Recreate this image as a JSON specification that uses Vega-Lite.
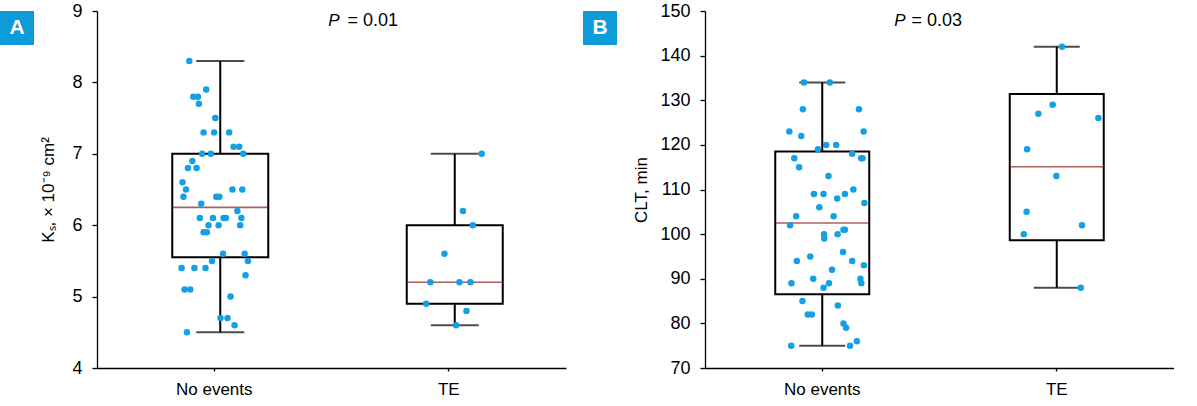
{
  "$schema": "https://vega.github.io/schema/vega-lite/v6.json",
  "padding": {"left": 0, "top": 2, "right": 0, "bottom": 0},
  "background": "white",
  "datasets": {
    "boxA": [
      {"group": "No events", "lower": 4.5, "q1": 5.55, "median": 6.25, "q3": 7.0, "upper": 8.3},
      {"group": "TE", "lower": 4.6, "q1": 4.9, "median": 5.2, "q3": 6.0, "upper": 7.0}
    ],
    "boxB": [
      {"group": "No events", "lower": 75, "q1": 86.5, "median": 102.5, "q3": 118.5, "upper": 134},
      {"group": "TE", "lower": 88, "q1": 98.6, "median": 115.1, "q3": 131.4, "upper": 142}
    ],
    "ptsA": [
      {"group": "No events", "value": 8.3, "jx": -0.132},
      {"group": "No events", "value": 7.9, "jx": -0.06},
      {"group": "No events", "value": 7.8, "jx": -0.115},
      {"group": "No events", "value": 7.8, "jx": -0.095},
      {"group": "No events", "value": 7.7, "jx": -0.091},
      {"group": "No events", "value": 7.5, "jx": -0.021},
      {"group": "No events", "value": 7.3, "jx": -0.071},
      {"group": "No events", "value": 7.3, "jx": -0.026},
      {"group": "No events", "value": 7.3, "jx": 0.038},
      {"group": "No events", "value": 7.1, "jx": 0.057},
      {"group": "No events", "value": 7.1, "jx": 0.081},
      {"group": "No events", "value": 7.0, "jx": -0.077},
      {"group": "No events", "value": 7.0, "jx": -0.04},
      {"group": "No events", "value": 7.0, "jx": 0.098},
      {"group": "No events", "value": 6.9, "jx": -0.119},
      {"group": "No events", "value": 6.8, "jx": -0.138},
      {"group": "No events", "value": 6.8, "jx": -0.101},
      {"group": "No events", "value": 6.6, "jx": -0.161},
      {"group": "No events", "value": 6.5, "jx": -0.146},
      {"group": "No events", "value": 6.5, "jx": 0.052},
      {"group": "No events", "value": 6.5, "jx": 0.094},
      {"group": "No events", "value": 6.4, "jx": -0.157},
      {"group": "No events", "value": 6.4, "jx": -0.017},
      {"group": "No events", "value": 6.4, "jx": -0.004},
      {"group": "No events", "value": 6.3, "jx": -0.081},
      {"group": "No events", "value": 6.2, "jx": 0.073},
      {"group": "No events", "value": 6.1, "jx": -0.087},
      {"group": "No events", "value": 6.1, "jx": -0.031},
      {"group": "No events", "value": 6.1, "jx": 0.014},
      {"group": "No events", "value": 6.1, "jx": 0.024},
      {"group": "No events", "value": 6.1, "jx": 0.09},
      {"group": "No events", "value": 6.0, "jx": -0.05},
      {"group": "No events", "value": 6.0, "jx": -0.007},
      {"group": "No events", "value": 6.0, "jx": 0.085},
      {"group": "No events", "value": 5.9, "jx": -0.071},
      {"group": "No events", "value": 5.9, "jx": -0.057},
      {"group": "No events", "value": 5.6, "jx": 0.012},
      {"group": "No events", "value": 5.6, "jx": 0.104},
      {"group": "No events", "value": 5.5, "jx": -0.035},
      {"group": "No events", "value": 5.5, "jx": 0.118},
      {"group": "No events", "value": 5.4, "jx": -0.165},
      {"group": "No events", "value": 5.4, "jx": -0.11},
      {"group": "No events", "value": 5.4, "jx": -0.063},
      {"group": "No events", "value": 5.3, "jx": 0.108},
      {"group": "No events", "value": 5.1, "jx": -0.152},
      {"group": "No events", "value": 5.1, "jx": -0.128},
      {"group": "No events", "value": 5.0, "jx": 0.044},
      {"group": "No events", "value": 4.7, "jx": 0.001},
      {"group": "No events", "value": 4.7, "jx": 0.031},
      {"group": "No events", "value": 4.6, "jx": 0.061},
      {"group": "No events", "value": 4.5, "jx": -0.142},
      {"group": "TE", "value": 7.0, "jx": 0.115},
      {"group": "TE", "value": 6.2, "jx": 0.035},
      {"group": "TE", "value": 6.0, "jx": 0.077},
      {"group": "TE", "value": 5.6, "jx": -0.044},
      {"group": "TE", "value": 5.2, "jx": -0.104},
      {"group": "TE", "value": 5.2, "jx": 0.02},
      {"group": "TE", "value": 5.2, "jx": 0.067},
      {"group": "TE", "value": 4.9, "jx": -0.122},
      {"group": "TE", "value": 4.8, "jx": 0.05},
      {"group": "TE", "value": 4.6, "jx": 0.006}
    ],
    "ptsB": [
      {"group": "No events", "value": 134, "jx": -0.104},
      {"group": "No events", "value": 134, "jx": 0.007},
      {"group": "No events", "value": 128, "jx": -0.108},
      {"group": "No events", "value": 128, "jx": 0.131},
      {"group": "No events", "value": 123, "jx": -0.166},
      {"group": "No events", "value": 123, "jx": 0.151},
      {"group": "No events", "value": 122, "jx": -0.115},
      {"group": "No events", "value": 120, "jx": -0.009},
      {"group": "No events", "value": 120, "jx": 0.034},
      {"group": "No events", "value": 119, "jx": -0.044},
      {"group": "No events", "value": 117, "jx": -0.145},
      {"group": "No events", "value": 118, "jx": 0.102},
      {"group": "No events", "value": 117, "jx": 0.14},
      {"group": "No events", "value": 117, "jx": 0.146},
      {"group": "No events", "value": 115, "jx": -0.124},
      {"group": "No events", "value": 113, "jx": 0.001},
      {"group": "No events", "value": 109, "jx": -0.061},
      {"group": "No events", "value": 109, "jx": -0.02},
      {"group": "No events", "value": 109, "jx": 0.071},
      {"group": "No events", "value": 110, "jx": 0.107},
      {"group": "No events", "value": 108, "jx": 0.038},
      {"group": "No events", "value": 107, "jx": 0.154},
      {"group": "No events", "value": 106, "jx": -0.038},
      {"group": "No events", "value": 104, "jx": -0.137},
      {"group": "No events", "value": 104, "jx": 0.023},
      {"group": "No events", "value": 102, "jx": -0.163},
      {"group": "No events", "value": 101, "jx": 0.065},
      {"group": "No events", "value": 101, "jx": 0.071},
      {"group": "No events", "value": 100, "jx": -0.018},
      {"group": "No events", "value": 99, "jx": -0.017},
      {"group": "No events", "value": 100, "jx": 0.04},
      {"group": "No events", "value": 96, "jx": 0.063},
      {"group": "No events", "value": 94, "jx": -0.134},
      {"group": "No events", "value": 94, "jx": 0.102},
      {"group": "No events", "value": 95, "jx": -0.077},
      {"group": "No events", "value": 93, "jx": 0.152},
      {"group": "No events", "value": 92, "jx": 0.016},
      {"group": "No events", "value": 90, "jx": -0.064},
      {"group": "No events", "value": 90, "jx": 0.137},
      {"group": "No events", "value": 89, "jx": -0.157},
      {"group": "No events", "value": 89, "jx": 0.003},
      {"group": "No events", "value": 89, "jx": 0.141},
      {"group": "No events", "value": 88, "jx": -0.02},
      {"group": "No events", "value": 85, "jx": -0.11},
      {"group": "No events", "value": 84, "jx": 0.041},
      {"group": "No events", "value": 82, "jx": -0.087},
      {"group": "No events", "value": 82, "jx": -0.07},
      {"group": "No events", "value": 80, "jx": 0.065},
      {"group": "No events", "value": 79, "jx": 0.076},
      {"group": "No events", "value": 75, "jx": -0.158},
      {"group": "No events", "value": 75, "jx": 0.093},
      {"group": "No events", "value": 76, "jx": 0.122},
      {"group": "TE", "value": 142, "jx": -0.003},
      {"group": "TE", "value": 129, "jx": -0.043},
      {"group": "TE", "value": 127, "jx": -0.104},
      {"group": "TE", "value": 126, "jx": 0.152},
      {"group": "TE", "value": 119, "jx": -0.152},
      {"group": "TE", "value": 113, "jx": -0.027},
      {"group": "TE", "value": 105, "jx": -0.154},
      {"group": "TE", "value": 102, "jx": 0.082},
      {"group": "TE", "value": 100, "jx": -0.166},
      {"group": "TE", "value": 88, "jx": 0.077}
    ]
  },
  "hconcat": [
    {
      "spacing": 5,
      "hconcat": [
        {
          "width": 34, "height": 34,
          "view": {"fill": "#0d9bd9", "stroke": null},
          "data": {"values": [{"lab": "A"}]},
          "mark": {"type": "text", "color": "white", "fontWeight": "bold", "fontSize": 21, "font": "Liberation Sans"},
          "encoding": {"text": {"field": "lab", "type": "nominal"}}
        },
        {
          "width": 469, "height": 357,
          "layer": [
            {
              "data": {"name": "boxA"},
              "mark": {"type": "rule", "color": "black", "strokeWidth": 2, "xOffset": 6},
              "encoding": {
                "x": {"field": "group", "type": "nominal", "sort": ["No events", "TE"], "scale": {"paddingInner": 0, "paddingOuter": 0}, "axis": {"title": null}},
                "y": {"field": "lower", "type": "quantitative", "scale": {"domain": [4, 9], "nice": false, "zero": false},
                      "axis": {"values": [4, 5, 6, 7, 8, 9], "format": "d", "title": "Kₛ, × 10⁻⁹ cm²", "titlePadding": 14}},
                "y2": {"field": "upper"}
              }
            },
            {
              "data": {"name": "boxA"},
              "mark": {"type": "bar", "size": 96, "fill": "white", "stroke": "black", "strokeWidth": 2, "xOffset": 6},
              "encoding": {
                "x": {"field": "group", "type": "nominal", "sort": ["No events", "TE"]},
                "y": {"field": "q1", "type": "quantitative"},
                "y2": {"field": "q3"}
              }
            },
            {
              "data": {"name": "boxA"},
              "mark": {"type": "tick", "size": 95, "thickness": 1.6, "color": "#8e1b1e", "xOffset": 6},
              "encoding": {
                "x": {"field": "group", "type": "nominal", "sort": ["No events", "TE"]},
                "y": {"field": "median", "type": "quantitative"}
              }
            },
            {
              "data": {"name": "boxA"},
              "mark": {"type": "tick", "size": 48, "thickness": 2, "color": "black", "xOffset": 6},
              "encoding": {
                "x": {"field": "group", "type": "nominal", "sort": ["No events", "TE"]},
                "y": {"field": "lower", "type": "quantitative"}
              }
            },
            {
              "data": {"name": "boxA"},
              "mark": {"type": "tick", "size": 48, "thickness": 2, "color": "black", "xOffset": 6},
              "encoding": {
                "x": {"field": "group", "type": "nominal", "sort": ["No events", "TE"]},
                "y": {"field": "upper", "type": "quantitative"}
              }
            },
            {
              "data": {"name": "ptsA"},
              "mark": {"type": "circle", "size": 42, "color": "#14a0e2", "opacity": 1},
              "encoding": {
                "x": {"field": "group", "type": "nominal", "sort": ["No events", "TE"]},
                "xOffset": {"field": "jx", "type": "quantitative", "scale": {"domain": [-0.5, 0.5], "range": [6, 240.5]}},
                "y": {"field": "value", "type": "quantitative"}
              }
            },
            {
              "data": {"values": [{"t": "P"}]},
              "mark": {"type": "text", "align": "right", "baseline": "alphabetic", "dx": 8, "dy": 15, "fontSize": 17, "fontStyle": "italic", "font": "Liberation Sans", "color": "black"},
              "encoding": {"text": {"field": "t", "type": "nominal"}, "y": {"datum": 9, "type": "quantitative"}}
            },
            {
              "data": {"values": [{"t": "= 0.01"}]},
              "mark": {"type": "text", "align": "left", "baseline": "alphabetic", "dx": 16, "dy": 15, "fontSize": 18, "font": "Liberation Sans", "color": "black"},
              "encoding": {"text": {"field": "t", "type": "nominal"}, "y": {"datum": 9, "type": "quantitative"}}
            }
          ]
        }
      ]
    },
    {
      "spacing": 15,
      "hconcat": [
        {
          "width": 34, "height": 34,
          "view": {"fill": "#0d9bd9", "stroke": null},
          "data": {"values": [{"lab": "B"}]},
          "mark": {"type": "text", "color": "white", "fontWeight": "bold", "fontSize": 21, "font": "Liberation Sans"},
          "encoding": {"text": {"field": "lab", "type": "nominal"}}
        },
        {
          "width": 469, "height": 357,
          "layer": [
            {
              "data": {"name": "boxB"},
              "mark": {"type": "rule", "color": "black", "strokeWidth": 2},
              "encoding": {
                "x": {"field": "group", "type": "nominal", "sort": ["No events", "TE"], "scale": {"paddingInner": 0, "paddingOuter": 0}, "axis": {"title": null}},
                "y": {"field": "lower", "type": "quantitative", "scale": {"domain": [70, 150], "nice": false, "zero": false},
                      "axis": {"values": [70, 80, 90, 100, 110, 120, 130, 140, 150], "format": "d", "title": "CLT, min", "titlePadding": 9}},
                "y2": {"field": "upper"}
              }
            },
            {
              "data": {"name": "boxB"},
              "mark": {"type": "bar", "size": 94, "fill": "white", "stroke": "black", "strokeWidth": 2},
              "encoding": {
                "x": {"field": "group", "type": "nominal", "sort": ["No events", "TE"]},
                "y": {"field": "q1", "type": "quantitative"},
                "y2": {"field": "q3"}
              }
            },
            {
              "data": {"name": "boxB"},
              "mark": {"type": "tick", "size": 93, "thickness": 1.6, "color": "#8e1b1e"},
              "encoding": {
                "x": {"field": "group", "type": "nominal", "sort": ["No events", "TE"]},
                "y": {"field": "median", "type": "quantitative"}
              }
            },
            {
              "data": {"name": "boxB"},
              "mark": {"type": "tick", "size": 46, "thickness": 2, "color": "black"},
              "encoding": {
                "x": {"field": "group", "type": "nominal", "sort": ["No events", "TE"]},
                "y": {"field": "lower", "type": "quantitative"}
              }
            },
            {
              "data": {"name": "boxB"},
              "mark": {"type": "tick", "size": 46, "thickness": 2, "color": "black"},
              "encoding": {
                "x": {"field": "group", "type": "nominal", "sort": ["No events", "TE"]},
                "y": {"field": "upper", "type": "quantitative"}
              }
            },
            {
              "data": {"name": "ptsB"},
              "mark": {"type": "circle", "size": 42, "color": "#14a0e2", "opacity": 1},
              "encoding": {
                "x": {"field": "group", "type": "nominal", "sort": ["No events", "TE"]},
                "xOffset": {"field": "jx", "type": "quantitative", "scale": {"domain": [-0.5, 0.5], "range": [0, 234.5]}},
                "y": {"field": "value", "type": "quantitative"}
              }
            },
            {
              "data": {"values": [{"t": "P"}]},
              "mark": {"type": "text", "align": "right", "baseline": "alphabetic", "dx": -34, "dy": 15, "fontSize": 17, "fontStyle": "italic", "font": "Liberation Sans", "color": "black"},
              "encoding": {"text": {"field": "t", "type": "nominal"}, "y": {"datum": 150, "type": "quantitative"}}
            },
            {
              "data": {"values": [{"t": "= 0.03"}]},
              "mark": {"type": "text", "align": "left", "baseline": "alphabetic", "dx": -28, "dy": 15, "fontSize": 18, "font": "Liberation Sans", "color": "black"},
              "encoding": {"text": {"field": "t", "type": "nominal"}, "y": {"datum": 150, "type": "quantitative"}}
            }
          ]
        }
      ]
    }
  ],
  "spacing": 17,
  "config": {
    "view": {"stroke": null},
    "font": "Liberation Sans",
    "axis": {
      "grid": false,
      "domainColor": "#000", "domainWidth": 1.3,
      "tickColor": "#000", "tickWidth": 1.3,
      "labelColor": "#000", "labelFontSize": 17, "labelFont": "Liberation Sans",
      "titleColor": "#000", "titleFontSize": 17, "titleFont": "Liberation Sans", "titleFontWeight": "normal"
    },
    "axisY": {"tickSize": 5, "labelPadding": 10, "labelFontSize": 18},
    "axisX": {"tickSize": 3, "labelPadding": 10, "labelAngle": 0}
  }
}
